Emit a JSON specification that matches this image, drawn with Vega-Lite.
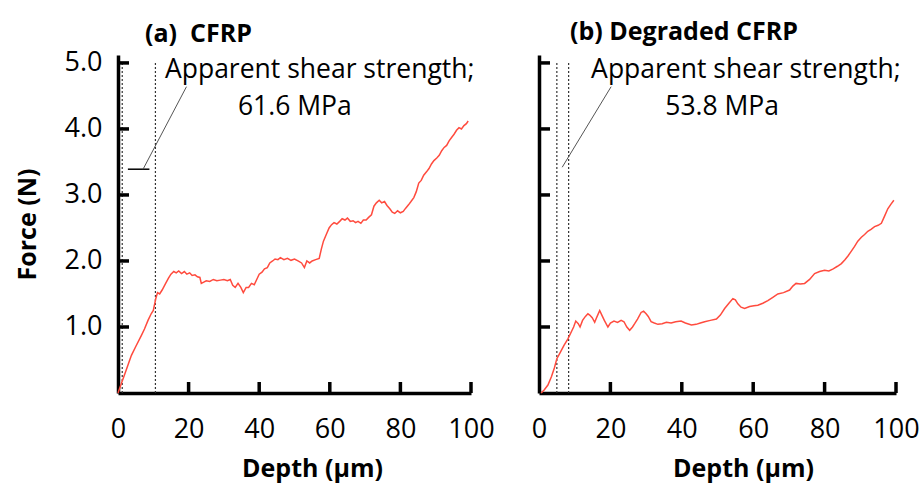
{
  "$schema": "https://vega.github.io/schema/vega-lite/v6.json",
  "padding": {"left": 15, "top": 20, "right": 5, "bottom": 2},
  "bounds": "flush",
  "spacing": 68,
  "config": {"font": "Open Sans", "view": {"stroke": null}, "axis": {"grid": false}},
  "datasets": {
    "curveA": [
      {"depth": 0, "force": 0}, {"depth": 1, "force": 0.15}, {"depth": 2, "force": 0.3}, {"depth": 3, "force": 0.45},
      {"depth": 3.8, "force": 0.57}, {"depth": 5, "force": 0.7}, {"depth": 6.6, "force": 0.87}, {"depth": 7.5, "force": 0.97},
      {"depth": 8.5, "force": 1.1}, {"depth": 9.4, "force": 1.2}, {"depth": 10, "force": 1.25}, {"depth": 10.7, "force": 1.43},
      {"depth": 11.2, "force": 1.52}, {"depth": 11.8, "force": 1.5}, {"depth": 12.5, "force": 1.56}, {"depth": 13.5, "force": 1.66},
      {"depth": 14.3, "force": 1.74}, {"depth": 15, "force": 1.8}, {"depth": 15.8, "force": 1.84}, {"depth": 16.5, "force": 1.82},
      {"depth": 17.2, "force": 1.85}, {"depth": 18, "force": 1.81}, {"depth": 18.8, "force": 1.84}, {"depth": 19.5, "force": 1.8},
      {"depth": 20.3, "force": 1.82}, {"depth": 21, "force": 1.78}, {"depth": 21.8, "force": 1.79}, {"depth": 22.5, "force": 1.76},
      {"depth": 23.2, "force": 1.75}, {"depth": 23.6, "force": 1.66}, {"depth": 24.3, "force": 1.68}, {"depth": 25, "force": 1.7},
      {"depth": 26, "force": 1.69}, {"depth": 27, "force": 1.72}, {"depth": 28, "force": 1.7}, {"depth": 29, "force": 1.71},
      {"depth": 30, "force": 1.72}, {"depth": 31, "force": 1.7}, {"depth": 31.8, "force": 1.72}, {"depth": 32.5, "force": 1.63},
      {"depth": 33.2, "force": 1.6}, {"depth": 34, "force": 1.66}, {"depth": 34.8, "force": 1.6}, {"depth": 35.5, "force": 1.52},
      {"depth": 36.3, "force": 1.6}, {"depth": 37, "force": 1.6}, {"depth": 37.8, "force": 1.66}, {"depth": 38.6, "force": 1.64},
      {"depth": 39.3, "force": 1.72}, {"depth": 40, "force": 1.8}, {"depth": 40.8, "force": 1.83}, {"depth": 41.5, "force": 1.88},
      {"depth": 42.3, "force": 1.9}, {"depth": 43, "force": 1.97}, {"depth": 43.8, "force": 2.0}, {"depth": 44.5, "force": 2.03},
      {"depth": 45.3, "force": 2.02}, {"depth": 46, "force": 2.05}, {"depth": 47, "force": 2.02}, {"depth": 48, "force": 2.04},
      {"depth": 49, "force": 2.01}, {"depth": 50, "force": 2.03}, {"depth": 51, "force": 2.0}, {"depth": 52, "force": 1.97},
      {"depth": 52.8, "force": 1.9}, {"depth": 53.5, "force": 2.0}, {"depth": 54.3, "force": 1.97}, {"depth": 55, "force": 2.0},
      {"depth": 56, "force": 2.02}, {"depth": 57, "force": 2.04}, {"depth": 57.6, "force": 2.18}, {"depth": 58.2, "force": 2.3},
      {"depth": 59, "force": 2.4}, {"depth": 59.8, "force": 2.5}, {"depth": 60.5, "force": 2.55}, {"depth": 61.2, "force": 2.58},
      {"depth": 62, "force": 2.56}, {"depth": 62.8, "force": 2.6}, {"depth": 63.5, "force": 2.64}, {"depth": 64.3, "force": 2.62},
      {"depth": 65, "force": 2.65}, {"depth": 65.8, "force": 2.6}, {"depth": 66.6, "force": 2.61}, {"depth": 67.3, "force": 2.58},
      {"depth": 68, "force": 2.6}, {"depth": 68.8, "force": 2.57}, {"depth": 69.5, "force": 2.62}, {"depth": 70.3, "force": 2.62},
      {"depth": 71, "force": 2.66}, {"depth": 71.8, "force": 2.7}, {"depth": 72.5, "force": 2.83}, {"depth": 73.2, "force": 2.88},
      {"depth": 74, "force": 2.92}, {"depth": 74.7, "force": 2.88}, {"depth": 75.5, "force": 2.9}, {"depth": 76.2, "force": 2.84},
      {"depth": 77, "force": 2.79}, {"depth": 77.7, "force": 2.74}, {"depth": 78.4, "force": 2.72}, {"depth": 79.2, "force": 2.76},
      {"depth": 80, "force": 2.73}, {"depth": 80.8, "force": 2.75}, {"depth": 81.5, "force": 2.8}, {"depth": 82.3, "force": 2.85},
      {"depth": 83, "force": 2.9}, {"depth": 83.8, "force": 2.96}, {"depth": 84.5, "force": 3.05}, {"depth": 85.2, "force": 3.18},
      {"depth": 85.9, "force": 3.22}, {"depth": 86.6, "force": 3.3}, {"depth": 87.4, "force": 3.35}, {"depth": 88.1, "force": 3.4},
      {"depth": 88.8, "force": 3.47}, {"depth": 89.5, "force": 3.52}, {"depth": 90.3, "force": 3.56}, {"depth": 91, "force": 3.6},
      {"depth": 91.7, "force": 3.67}, {"depth": 92.4, "force": 3.72}, {"depth": 93.1, "force": 3.75}, {"depth": 93.8, "force": 3.82},
      {"depth": 94.5, "force": 3.87}, {"depth": 95.2, "force": 3.92}, {"depth": 95.9, "force": 3.98}, {"depth": 96.6, "force": 4.02},
      {"depth": 97.3, "force": 4.0}, {"depth": 98, "force": 4.05}, {"depth": 98.7, "force": 4.08}, {"depth": 99.2, "force": 4.12}
    ],
    "curveB": [
      {"depth": 0.6, "force": 0}, {"depth": 1.5, "force": 0.05}, {"depth": 2.5, "force": 0.12}, {"depth": 3.5, "force": 0.25},
      {"depth": 4.3, "force": 0.38}, {"depth": 5, "force": 0.52}, {"depth": 6, "force": 0.62}, {"depth": 7, "force": 0.72},
      {"depth": 8.1, "force": 0.82}, {"depth": 9, "force": 0.92}, {"depth": 9.7, "force": 1.0}, {"depth": 10.3, "force": 1.09},
      {"depth": 11, "force": 1.05}, {"depth": 11.5, "force": 1.0}, {"depth": 12.2, "force": 1.1}, {"depth": 13, "force": 1.16},
      {"depth": 13.7, "force": 1.2}, {"depth": 14.2, "force": 1.18}, {"depth": 14.9, "force": 1.14}, {"depth": 15.6, "force": 1.07},
      {"depth": 16.2, "force": 1.15}, {"depth": 17, "force": 1.25}, {"depth": 17.6, "force": 1.18}, {"depth": 18.3, "force": 1.1},
      {"depth": 19.3, "force": 1.0}, {"depth": 20, "force": 1.06}, {"depth": 21, "force": 1.09}, {"depth": 22, "force": 1.07},
      {"depth": 23, "force": 1.1}, {"depth": 23.8, "force": 1.08}, {"depth": 24.6, "force": 1.0}, {"depth": 25.4, "force": 0.95},
      {"depth": 26.2, "force": 1.0}, {"depth": 26.8, "force": 1.05}, {"depth": 27.6, "force": 1.12}, {"depth": 28.6, "force": 1.22},
      {"depth": 29.3, "force": 1.24}, {"depth": 30, "force": 1.2}, {"depth": 30.6, "force": 1.16}, {"depth": 31.4, "force": 1.08},
      {"depth": 32.3, "force": 1.06}, {"depth": 33.3, "force": 1.04}, {"depth": 34.5, "force": 1.05}, {"depth": 35.7, "force": 1.07},
      {"depth": 37, "force": 1.06}, {"depth": 38.3, "force": 1.08}, {"depth": 39.8, "force": 1.09}, {"depth": 41, "force": 1.06},
      {"depth": 42.7, "force": 1.03}, {"depth": 44, "force": 1.04}, {"depth": 45.2, "force": 1.06}, {"depth": 46.4, "force": 1.08},
      {"depth": 48, "force": 1.1}, {"depth": 49.7, "force": 1.12}, {"depth": 50.8, "force": 1.18}, {"depth": 52, "force": 1.28},
      {"depth": 53.2, "force": 1.36}, {"depth": 54.3, "force": 1.43}, {"depth": 55, "force": 1.41}, {"depth": 55.7, "force": 1.35},
      {"depth": 56.6, "force": 1.3}, {"depth": 57.6, "force": 1.28}, {"depth": 59, "force": 1.31}, {"depth": 60.2, "force": 1.32},
      {"depth": 61.3, "force": 1.33}, {"depth": 62.7, "force": 1.36}, {"depth": 64.1, "force": 1.4}, {"depth": 65.5, "force": 1.45},
      {"depth": 66.9, "force": 1.5}, {"depth": 68.5, "force": 1.52}, {"depth": 70.2, "force": 1.56}, {"depth": 71.1, "force": 1.62},
      {"depth": 72, "force": 1.66}, {"depth": 73.2, "force": 1.65}, {"depth": 74.4, "force": 1.66}, {"depth": 75.8, "force": 1.72},
      {"depth": 77.2, "force": 1.81}, {"depth": 78.6, "force": 1.84}, {"depth": 80, "force": 1.86}, {"depth": 81.2, "force": 1.85},
      {"depth": 82.4, "force": 1.88}, {"depth": 83.6, "force": 1.92}, {"depth": 84.7, "force": 1.96}, {"depth": 85.7, "force": 2.02},
      {"depth": 86.6, "force": 2.08}, {"depth": 87.5, "force": 2.15}, {"depth": 88.4, "force": 2.22}, {"depth": 89.3, "force": 2.3},
      {"depth": 90.3, "force": 2.36}, {"depth": 91.2, "force": 2.4}, {"depth": 92.1, "force": 2.45}, {"depth": 93, "force": 2.48},
      {"depth": 94, "force": 2.52}, {"depth": 95, "force": 2.54}, {"depth": 95.9, "force": 2.57}, {"depth": 96.8, "force": 2.68},
      {"depth": 97.7, "force": 2.79}, {"depth": 98.6, "force": 2.86}, {"depth": 99.4, "force": 2.92}
    ],
    "xticks": [{"depth": 20}, {"depth": 40}, {"depth": 60}, {"depth": 80}, {"depth": 100}],
    "yticks": [{"force": 1}, {"force": 2}, {"force": 3}, {"force": 4}, {"force": 5}],
    "dottedA": [{"depth": 1.2, "y0": 0, "y1": 5.0}, {"depth": 10.6, "y0": 0, "y1": 5.0}],
    "dottedB": [{"depth": 5.0, "y0": 0, "y1": 5.0}, {"depth": 8.3, "y0": 0, "y1": 5.0}],
    "leaderA": [{"x1": 7.1, "y1": 3.39, "x2": 19.4, "y2": 4.64}],
    "barA": [{"x1": 2.8, "x2": 8.9, "y": 3.39}],
    "leaderB": [{"x1": 6.5, "y1": 3.42, "x2": 20.2, "y2": 4.64}],
    "labelA": [{"depth": 13.3, "force": 4.89, "text": "Apparent shear strength;"}],
    "valueA": [{"depth": 50.1, "force": 4.33, "text": "61.6 MPa"}],
    "labelB": [{"depth": 14.6, "force": 4.89, "text": "Apparent shear strength;"}],
    "valueB": [{"depth": 51.3, "force": 4.33, "text": "53.8 MPa"}]
  },
  "hconcat": [
    {
      "width": 353,
      "height": 338,
      "title": {"text": "(a)\u00a0\u00a0CFRP", "anchor": "start", "frame": "group", "dx": 27, "fontSize": 25, "font": "Open Sans", "fontWeight": "bold", "color": "#000000", "baseline": "alphabetic", "offset": -18},
      "layer": [
        {
          "data": {"name": "dottedA"},
          "mark": {"type": "rule", "color": "#333333", "strokeWidth": 1.2, "strokeDash": [2, 2]},
          "encoding": {
            "x": {"field": "depth", "type": "quantitative", "scale": {"domain": [0, 100], "nice": false},
              "axis": {"values": [0, 20, 40, 60, 80, 100], "title": "Depth (μm)", "ticks": false,
                "domainColor": "#000000", "domainWidth": 3.5,
                "labelFont": "Open Sans", "labelFontSize": 27, "labelColor": "#000000", "labelFlush": false, "labelPadding": 23,
                "titleFont": "Open Sans", "titleFontSize": 25, "titleFontWeight": "bold", "titleColor": "#000000", "titlePadding": 14, "titleX": 194}},
            "y": {"field": "y0", "type": "quantitative", "scale": {"domain": [0, 5.12], "nice": false, "zero": true},
              "axis": {"values": [1, 2, 3, 4, 5], "format": ".1f", "title": "Force (N)", "ticks": false,
                "domainColor": "#000000", "domainWidth": 3.5,
                "labelFont": "Open Sans", "labelFontSize": 27, "labelColor": "#000000", "labelPadding": 16,
                "titleFont": "Open Sans", "titleFontSize": 25, "titleFontWeight": "bold", "titleColor": "#000000", "titlePadding": 24}},
            "y2": {"field": "y1"}
          }
        },
        {
          "data": {"name": "xticks"},
          "mark": {"type": "tick", "orient": "vertical", "size": 11, "thickness": 3.5, "color": "#000000", "yOffset": -5.5, "opacity": 1},
          "encoding": {"x": {"field": "depth", "type": "quantitative"}, "y": {"datum": 0, "type": "quantitative"}}
        },
        {
          "data": {"name": "yticks"},
          "mark": {"type": "tick", "orient": "horizontal", "size": 11, "thickness": 3.5, "color": "#000000", "xOffset": 5.5, "opacity": 1},
          "encoding": {"y": {"field": "force", "type": "quantitative"}, "x": {"datum": 0, "type": "quantitative"}}
        },
        {
          "data": {"name": "barA"},
          "mark": {"type": "rule", "color": "#000000", "strokeWidth": 1.5},
          "encoding": {"x": {"field": "x1", "type": "quantitative"}, "x2": {"field": "x2"}, "y": {"field": "y", "type": "quantitative"}}
        },
        {
          "data": {"name": "leaderA"},
          "mark": {"type": "rule", "color": "#555555", "strokeWidth": 1},
          "encoding": {"x": {"field": "x1", "type": "quantitative"}, "x2": {"field": "x2"}, "y": {"field": "y1", "type": "quantitative"}, "y2": {"field": "y2"}}
        },
        {
          "data": {"name": "curveA"},
          "mark": {"type": "line", "color": "#ff4b3e", "strokeWidth": 1.5},
          "encoding": {"x": {"field": "depth", "type": "quantitative"}, "y": {"field": "force", "type": "quantitative"}}
        },
        {
          "data": {"name": "labelA"},
          "mark": {"type": "text", "align": "left", "baseline": "middle", "fontSize": 26.5, "font": "Open Sans", "color": "#000000"},
          "encoding": {"x": {"field": "depth", "type": "quantitative"}, "y": {"field": "force", "type": "quantitative"}, "text": {"field": "text"}}
        },
        {
          "data": {"name": "valueA"},
          "mark": {"type": "text", "align": "center", "baseline": "middle", "fontSize": 26.5, "font": "Open Sans", "color": "#000000"},
          "encoding": {"x": {"field": "depth", "type": "quantitative"}, "y": {"field": "force", "type": "quantitative"}, "text": {"field": "text"}}
        }
      ]
    },
    {
      "width": 357,
      "height": 338,
      "title": {"text": "(b) Degraded CFRP", "anchor": "start", "frame": "group", "dx": 31, "fontSize": 25, "font": "Open Sans", "fontWeight": "bold", "color": "#000000", "baseline": "alphabetic", "offset": -10},
      "layer": [
        {
          "data": {"name": "dottedB"},
          "mark": {"type": "rule", "color": "#333333", "strokeWidth": 1.2, "strokeDash": [2, 2]},
          "encoding": {
            "x": {"field": "depth", "type": "quantitative", "scale": {"domain": [0, 100], "nice": false},
              "axis": {"values": [0, 20, 40, 60, 80, 100], "title": "Depth (μm)", "ticks": false,
                "domainColor": "#000000", "domainWidth": 3.5,
                "labelFont": "Open Sans", "labelFontSize": 27, "labelColor": "#000000", "labelFlush": false, "labelPadding": 23,
                "titleFont": "Open Sans", "titleFontSize": 25, "titleFontWeight": "bold", "titleColor": "#000000", "titlePadding": 14, "titleX": 204}},
            "y": {"field": "y0", "type": "quantitative", "scale": {"domain": [0, 5.12], "nice": false, "zero": true},
              "axis": {"values": [1, 2, 3, 4, 5], "labels": false, "title": null, "ticks": false,
                "domainColor": "#000000", "domainWidth": 3.5}},
            "y2": {"field": "y1"}
          }
        },
        {
          "data": {"name": "xticks"},
          "mark": {"type": "tick", "orient": "vertical", "size": 11, "thickness": 3.5, "color": "#000000", "yOffset": -5.5, "opacity": 1},
          "encoding": {"x": {"field": "depth", "type": "quantitative"}, "y": {"datum": 0, "type": "quantitative"}}
        },
        {
          "data": {"name": "yticks"},
          "mark": {"type": "tick", "orient": "horizontal", "size": 11, "thickness": 3.5, "color": "#000000", "xOffset": 5.5, "opacity": 1},
          "encoding": {"y": {"field": "force", "type": "quantitative"}, "x": {"datum": 0, "type": "quantitative"}}
        },
        {
          "data": {"name": "leaderB"},
          "mark": {"type": "rule", "color": "#555555", "strokeWidth": 1},
          "encoding": {"x": {"field": "x1", "type": "quantitative"}, "x2": {"field": "x2"}, "y": {"field": "y1", "type": "quantitative"}, "y2": {"field": "y2"}}
        },
        {
          "data": {"name": "curveB"},
          "mark": {"type": "line", "color": "#ff4b3e", "strokeWidth": 1.5},
          "encoding": {"x": {"field": "depth", "type": "quantitative"}, "y": {"field": "force", "type": "quantitative"}}
        },
        {
          "data": {"name": "labelB"},
          "mark": {"type": "text", "align": "left", "baseline": "middle", "fontSize": 26.5, "font": "Open Sans", "color": "#000000"},
          "encoding": {"x": {"field": "depth", "type": "quantitative"}, "y": {"field": "force", "type": "quantitative"}, "text": {"field": "text"}}
        },
        {
          "data": {"name": "valueB"},
          "mark": {"type": "text", "align": "center", "baseline": "middle", "fontSize": 26.5, "font": "Open Sans", "color": "#000000"},
          "encoding": {"x": {"field": "depth", "type": "quantitative"}, "y": {"field": "force", "type": "quantitative"}, "text": {"field": "text"}}
        }
      ]
    }
  ]
}
